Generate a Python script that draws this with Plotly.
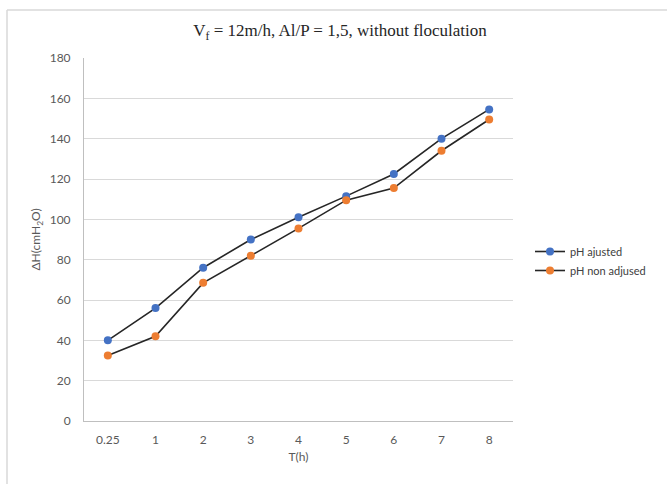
import plotly.graph_objects as go

# Filtration time (h) and head loss (cmH2O)
time_h = ["0.25", "1", "2", "3", "4", "5", "6", "7", "8"]
ph_adjusted = [40, 56, 76, 90, 101, 111.5, 122.5, 140, 154.5]
ph_non_adjusted = [32.5, 42, 68.5, 82, 95.5, 109.5, 115.5, 134, 149.5]

W, H = 667, 484
L, R, T, B = 84, 154, 58, 63
pw, ph = W - L - R, H - T - B


def px_x(x):
    return (x - L) / pw


def px_y(y):
    return (H - B - y) / ph


fig = go.Figure()
fig.add_trace(go.Scatter(
    x=time_h, y=ph_adjusted, name="pH ajusted", mode="lines+markers",
    line=dict(color="#262626", width=1.6),
    marker=dict(color="#4472C4", size=8),
))
fig.add_trace(go.Scatter(
    x=time_h, y=ph_non_adjusted, name="pH non adjused", mode="lines+markers",
    line=dict(color="#262626", width=1.6),
    marker=dict(color="#ED7D31", size=8),
))

tick_font = dict(family="Lato, 'Open Sans', sans-serif", size=12, color="#595959")

fig.update_layout(
    width=W, height=H,
    margin=dict(l=L, r=R, t=T, b=B),
    paper_bgcolor="white", plot_bgcolor="white",
    title=dict(
        text="V<sub>f</sub> = 12m/h, Al/P = 1,5, without floculation",
        font=dict(family="Liberation Serif, serif", size=17, color="#262626"),
        x=340 / W, xref="container", xanchor="center",
        y=1 - 30 / H, yanchor="middle",
    ),
    xaxis=dict(
        type="category", range=[-0.5, 8.5],
        showgrid=False, showline=True, linecolor="#BFBFBF", linewidth=1,
        ticks="", tickfont=tick_font, ticklabelstandoff=8,
        title=dict(text="T(h)", font=tick_font, standoff=6),
    ),
    yaxis=dict(
        range=[0, 180], dtick=20,
        showgrid=True, gridcolor="#D9D9D9", gridwidth=1,
        showline=True, linecolor="#BFBFBF", linewidth=1,
        ticks="", tickfont=tick_font, zeroline=False, ticklabelstandoff=10,
        title=dict(text="ΔH(cmH<sub>2</sub>O)", font=tick_font, standoff=6),
    ),
    legend=dict(
        x=px_x(530), y=px_y(261), xanchor="left", yanchor="middle",
        font=dict(family="Lato, 'Open Sans', sans-serif", size=11, color="#404040"),
        bgcolor="rgba(0,0,0,0)", itemwidth=30, tracegroupgap=0,
    ),
    showlegend=True,
)

# Outer frame (top and left edges)
fig.add_shape(type="line", xref="paper", yref="paper",
              x0=px_x(7), x1=px_x(667), y0=px_y(10), y1=px_y(10),
              line=dict(color="#D9D9D9", width=1.5))
fig.add_shape(type="line", xref="paper", yref="paper",
              x0=px_x(7), x1=px_x(7), y0=px_y(10), y1=px_y(484),
              line=dict(color="#D9D9D9", width=1.5))

fig.write_html("out.html")
